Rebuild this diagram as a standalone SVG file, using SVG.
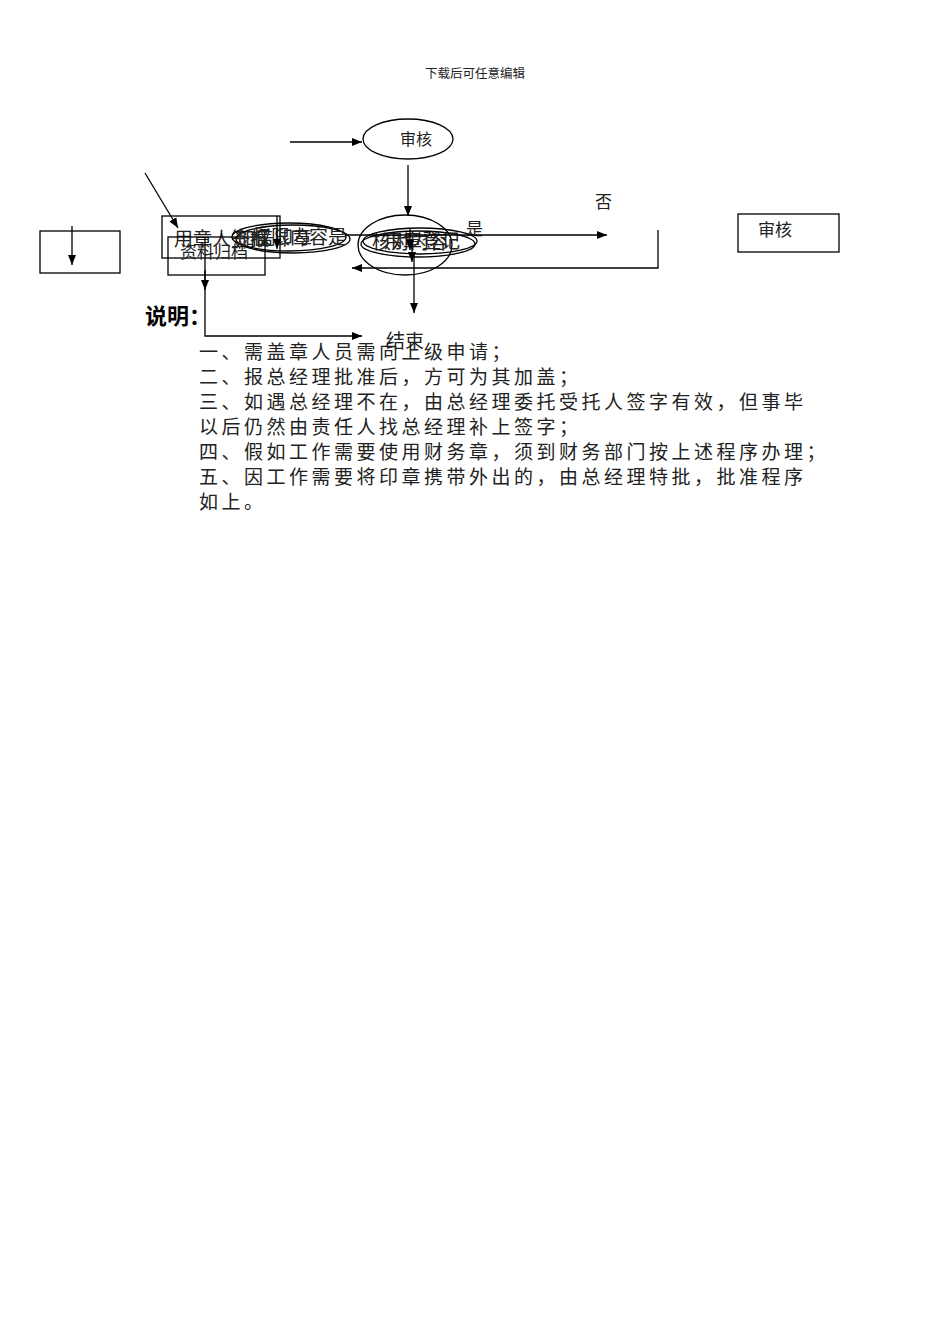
<svg xmlns="http://www.w3.org/2000/svg" width="950" height="1344" viewBox="0 0 950 1344">
<style>
.t{font-family:"Noto Sans CJK SC","Liberation Sans",sans-serif;fill:#222}
.n{fill:none;stroke:#000;stroke-width:1.3}
.c{fill:none;stroke:#000;stroke-width:1.3}
.p{font-family:"Noto Sans CJK SC","Liberation Sans",sans-serif;font-size:19px;letter-spacing:3.5px;fill:#222}
</style>
<defs>
<marker id="b" viewBox="0 0 10 10" refX="10" refY="5" markerWidth="10" markerHeight="10" markerUnits="userSpaceOnUse" orient="auto"><path d="M0,1 L10,5 L0,9 z" fill="#000"/></marker>
</defs>
<rect width="950" height="1344" fill="#fff"/>
<text class="t" x="475" y="78" font-size="12.5" text-anchor="middle" fill="#444">下载后可任意编辑</text>

<g id="n-audit-top">
<ellipse class="n" cx="408" cy="139" rx="45" ry="20"/>
<text class="t" x="416" y="145" font-size="16" text-anchor="middle">审核</text>
</g>
<g id="n-left-box">
<rect class="n" x="40" y="231" width="80" height="42"/>
</g>
<g id="n-apply">
<rect class="n" x="162" y="216" width="118" height="42"/>
<text class="t" x="174" y="246" font-size="19" fill="#333">用章人签报</text>
</g>
<g id="n-archive">
<rect class="n" x="168" y="237" width="97" height="38"/>
<text class="t" x="180" y="258" font-size="17" fill="#333">资料归档</text>
</g>
<g id="n-seal">
<ellipse class="n" cx="289" cy="237" rx="57" ry="14"/>
<ellipse class="n" cx="293" cy="239" rx="57" ry="14"/>
<text class="t" x="236" y="245" font-size="19" fill="#333">加盖印章</text>
<text class="t" x="252" y="244" font-size="19" fill="#333">权限内容是</text>
</g>
<g id="n-check">
<ellipse class="n" cx="405" cy="245" rx="47" ry="30"/>
<ellipse class="n" cx="420" cy="241" rx="57" ry="13"/>
<ellipse class="n" cx="418" cy="244" rx="57" ry="13"/>
<text class="t" x="372" y="249" font-size="19" fill="#333">核对内容</text>
<text class="t" x="384" y="248" font-size="19" fill="#333">用章登记</text>
</g>
<g id="n-audit-right">
<rect class="n" x="738" y="214" width="101" height="38"/>
<text class="t" x="758" y="236" font-size="17">审核</text>
</g>
<g id="n-end">
<text class="t" x="386" y="348" font-size="19">结束</text>
</g>
<g id="labels">
<text class="t" x="466" y="235" font-size="17">是</text>
<text class="t" x="595" y="208" font-size="17">否</text>
</g>

<g id="connectors">
<line class="c" x1="290" y1="142" x2="362" y2="142" marker-end="url(#b)"/>
<line class="c" x1="408" y1="165" x2="408" y2="216" marker-end="url(#b)"/>
<line class="c" x1="145" y1="173" x2="178" y2="228" marker-end="url(#b)"/>
<line class="c" x1="72" y1="226" x2="72" y2="265" marker-end="url(#b)"/>
<line class="c" x1="277" y1="216" x2="277" y2="249" marker-end="url(#b)"/>
<line class="c" x1="345" y1="235" x2="607" y2="235" marker-end="url(#b)"/>
<polyline class="c" points="658,230 658,268 352,268" marker-end="url(#b)"/>
<line class="c" x1="410" y1="228" x2="410" y2="250" marker-end="url(#b)"/>
<line class="c" x1="412" y1="240" x2="412" y2="262" marker-end="url(#b)"/>
<line class="c" x1="414" y1="255" x2="414" y2="313" marker-end="url(#b)"/>
<polyline class="c" points="205,237 205,336 362,336" marker-end="url(#b)"/>
<line class="c" x1="205" y1="270" x2="205" y2="290" marker-end="url(#b)"/>
</g>

<g id="notes">
<text x="145" y="324" font-family="'Noto Sans CJK SC','Liberation Sans',sans-serif" font-size="22" font-weight="bold" fill="#000">说明：</text>
<text class="p" x="199" y="359">一、需盖章人员需向上级申请；</text>
<text class="p" x="199" y="384">二、报总经理批准后，方可为其加盖；</text>
<text class="p" x="199" y="409">三、如遇总经理不在，由总经理委托受托人签字有效，但事毕</text>
<text class="p" x="199" y="434">以后仍然由责任人找总经理补上签字；</text>
<text class="p" x="199" y="459">四、假如工作需要使用财务章，须到财务部门按上述程序办理；</text>
<text class="p" x="199" y="484">五、因工作需要将印章携带外出的，由总经理特批，批准程序</text>
<text class="p" x="199" y="509">如上。</text>
</g>
</svg>
